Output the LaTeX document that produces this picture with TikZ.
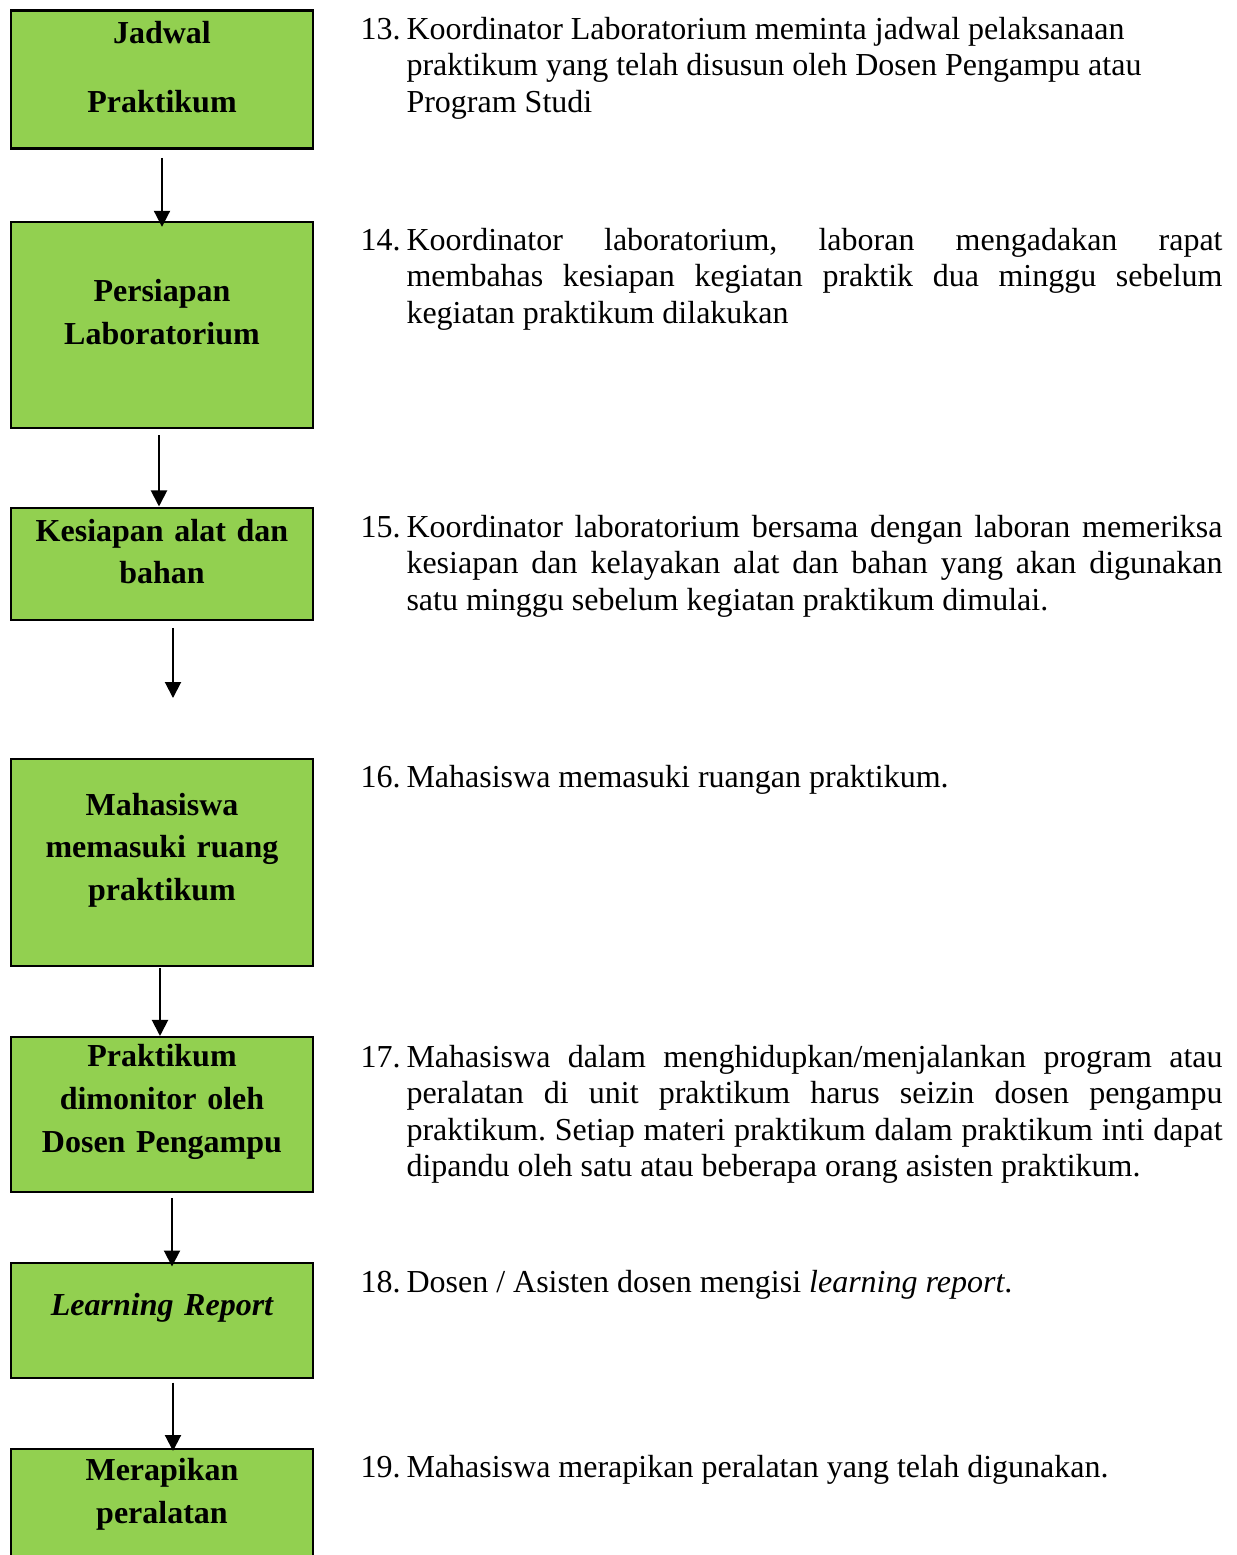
\documentclass[tikz,border=0pt]{standalone}
\usepackage{fontspec}
\setmainfont{Liberation Serif}
\usetikzlibrary{arrows.meta}
\definecolor{boxgreen}{RGB}{146,208,80}
\newcommand{\itemtext}[2]{\frenchspacing\tolerance=9999\hyphenpenalty=10000\hangindent=17.25pt\hangafter=1\makebox[17.25pt][l]{#1}#2\par}
\newcommand{\boxpad}{\par\vspace{9.5pt}\hrule height 0pt}

\begin{document}
\begin{tikzpicture}[
  x=0.375pt, y=-0.375pt,
  stepbox/.style={draw, line width=0.75pt, fill=boxgreen, align=center, inner sep=0pt, text width=110pt, minimum width=113.25pt, font=\fontsize{12pt}{16pt}\selectfont\bfseries, execute at end node=\boxpad},
  note/.style={anchor=base west, inner sep=0pt, text width=323.25pt, align=justify, font=\fontsize{12pt}{13.7pt}\selectfont},
  arrow/.style={-{Triangle[width=6pt,length=6pt]}, line width=0.75pt}
]
\useasboundingbox (0,0) rectangle (1237,1555);
\node[stepbox, line width=1.1pt, minimum height=51.75pt] (jadwal) at (162,79.3) {Jadwal\\[9.9pt]Praktikum};
\node[stepbox, minimum height=77.4pt] (persiapan) at (162,325) {Persiapan\\Laboratorium};
\node[stepbox, minimum height=41.8pt] (kesiapan) at (162,564.2) {Kesiapan alat dan\\bahan};
\coordinate (kesiapanend) at (173,698);
\node[stepbox, minimum height=77.6pt] (masuk) at (162,862.7) {Mahasiswa\\memasuki ruang\\praktikum};
\node[stepbox, minimum height=58.3pt] (monitor) at (162,1114.7) {Praktikum\\dimonitor oleh\\Dosen Pengampu};
\node[stepbox, minimum height=43.2pt] (report) at (162,1320.1) {\itshape Learning Report};
\node[stepbox, minimum height=43.5pt] (rapi) at (162,1507) {Merapikan\\peralatan};

\node[note] (n13) at (360,39) {\itemtext{13.}{Koordinator Laboratorium meminta jadwal pelaksanaan\\ praktikum yang telah disusun oleh Dosen Pengampu atau\\ Program Studi}};
\node[note] (n14) at (360,250) {\itemtext{14.}{Koordinator laboratorium, laboran mengadakan rapat\linebreak membahas kesiapan kegiatan praktik dua minggu sebelum\linebreak kegiatan praktikum dilakukan}};
\node[note] (n15) at (360,537) {\itemtext{15.}{Koordinator laboratorium bersama dengan laboran memeriksa\linebreak kesiapan dan kelayakan alat dan bahan yang akan digunakan\linebreak satu minggu sebelum kegiatan praktikum dimulai.}};
\node[note] (n16) at (360,787) {\itemtext{16.}{Mahasiswa memasuki ruangan praktikum.}};
\node[note] (n17) at (360,1067) {\itemtext{17.}{Mahasiswa dalam menghidupkan/menjalankan program atau\linebreak peralatan di unit praktikum harus seizin dosen pengampu\linebreak praktikum. Setiap materi praktikum dalam praktikum inti dapat\linebreak dipandu oleh satu atau beberapa orang asisten praktikum.}};
\node[note] (n18) at (360,1292) {\itemtext{18.}{Dosen / Asisten dosen mengisi \textit{learning report}.}};
\node[note] (n19) at (360,1477) {\itemtext{19.}{Mahasiswa merapikan peralatan yang telah digunakan.}};

\draw[arrow] ([shift={(0,8)}]jadwal.south) -- ([shift={(0,6)}]persiapan.north);
\draw[arrow] ([shift={(-3,6)}]persiapan.south) -- ([shift={(-3,-1)}]kesiapan.north);
\draw[arrow] ([shift={(11,7)}]kesiapan.south) -- (kesiapanend);
\draw[arrow] ([shift={(-2,1)}]masuk.south) -- ([shift={(-2,0)}]monitor.north);
\draw[arrow] ([shift={(10,5)}]monitor.south) -- ([shift={(10,5)}]report.north);
\draw[arrow] ([shift={(11,4)}]report.south) -- ([shift={(11,3)}]rapi.north);
\end{tikzpicture}
\end{document}
